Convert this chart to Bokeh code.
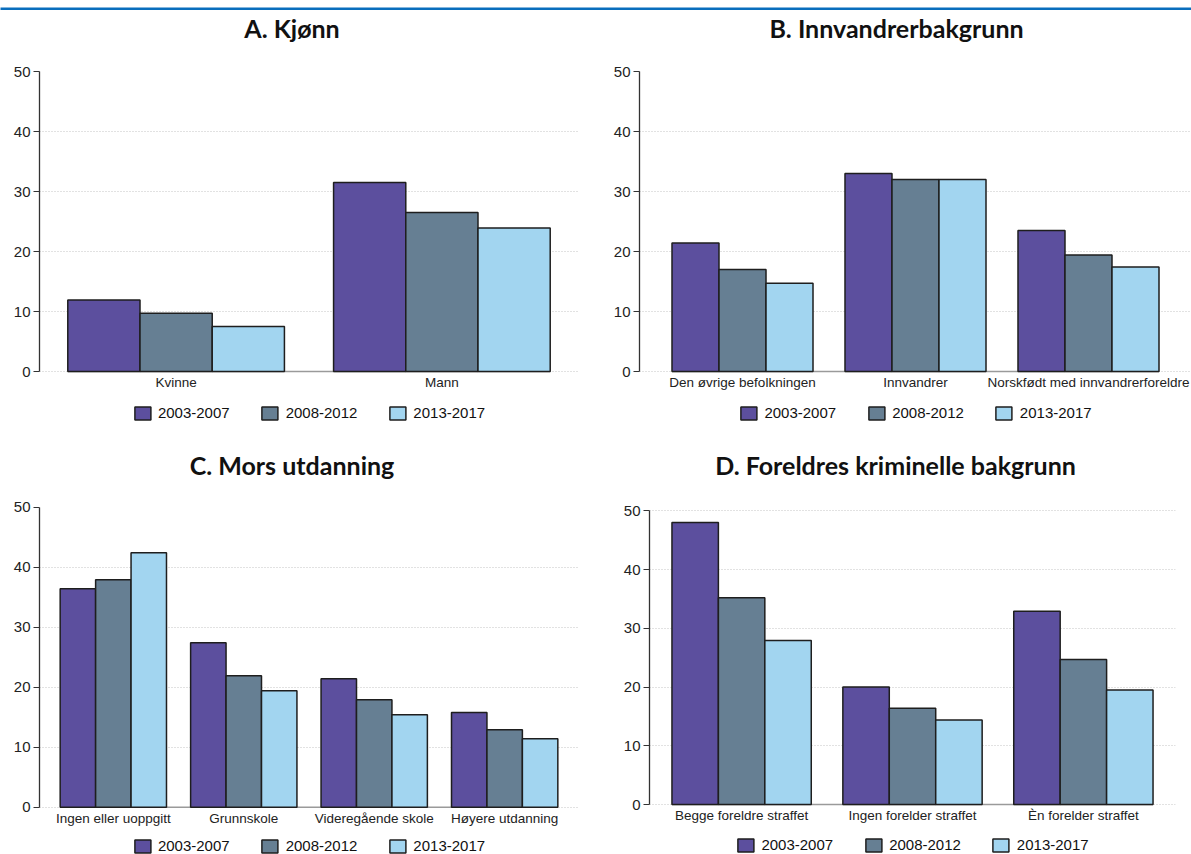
from bokeh.plotting import figure
from bokeh.models import (FactorRange, Range1d, FixedTicker, ColumnDataSource,
                          Legend, LegendItem, Label)
from bokeh.core.properties import value
from bokeh.transform import dodge
from bokeh.layouts import column, row
from bokeh.embed import file_html
from bokeh.resources import INLINE

# ---------------- data ----------------
periods = ["2003-2007", "2008-2012", "2013-2017"]
colors = ["#5c4f9e", "#667f93", "#a2d5f0"]

titles = ["A. Kjønn", "B. Innvandrerbakgrunn", "C. Mors utdanning",
          "D. Foreldres kriminelle bakgrunn"]

cats_a = ["Kvinne", "Mann"]
a_2003 = [11.9, 31.5]
a_2008 = [9.7, 26.5]
a_2013 = [7.5, 23.9]

cats_b = ["Den øvrige befolkningen", "Innvandrer", "Norskfødt med innvandrerforeldre"]
b_2003 = [21.4, 33.0, 23.5]
b_2008 = [17.0, 32.0, 19.4]
b_2013 = [14.7, 32.0, 17.4]

cats_c = ["Ingen eller uoppgitt", "Grunnskole", "Videregående skole", "Høyere utdanning"]
c_2003 = [36.4, 27.4, 21.4, 15.8]
c_2008 = [37.9, 21.9, 17.9, 12.9]
c_2013 = [42.4, 19.4, 15.4, 11.4]

cats_d = ["Begge foreldre straffet", "Ingen forelder straffet", "Èn forelder straffet"]
d_2003 = [48.0, 20.0, 32.9]
d_2008 = [35.2, 16.4, 24.7]
d_2013 = [27.9, 14.4, 19.5]

y_ticks = [0, 10, 20, 30, 40, 50]
Y_MAX = 50

BAR_W = 0.2717
TICK_FONT = "Liberation Sans"


def panel(title, cats, series, width, height, mb_left, mb_right,
          top50_px, zero_px, pad, grid_ticks, title_px, title_dx, legend_margin):
    """top50_px / zero_px: vertical pixel position (from figure top) of y=50 and y=0."""
    ppu = (zero_px - top50_px) / Y_MAX
    y_hi = Y_MAX + top50_px / ppu
    y_lo = -(height - zero_px) / ppu

    src = ColumnDataSource(dict(cat=cats, s0=series[0], s1=series[1], s2=series[2],
                                base=[0] * len(cats)))
    p = figure(x_range=FactorRange(factors=cats, range_padding=pad),
               y_range=Range1d(y_lo, y_hi), width=width, height=height, title=None,
               output_backend="svg", toolbar_location=None,
               min_border_left=mb_left, min_border_right=mb_right,
               min_border_top=0, min_border_bottom=0)
    p.outline_line_color = None
    p.background_fill_color = "white"
    p.border_fill_color = "white"

    # grid
    p.xgrid.visible = False
    p.ygrid.ticker = FixedTicker(ticks=grid_ticks)
    p.ygrid.grid_line_color = "#c4c4c4"
    p.ygrid.grid_line_dash = "1 2"
    p.ygrid.grid_line_width = 1

    # baseline under the bar groups
    base = ColumnDataSource(dict(x0=[cats[0]], x1=[cats[-1]], y=[0]))
    p.segment(x0=dodge("x0", -1.5 * BAR_W, range=p.x_range), y0="y",
              x1=dodge("x1", 1.5 * BAR_W, range=p.x_range), y1="y",
              source=base, line_color="#9a9a9a", line_width=1.5)

    offsets = [-BAR_W, 0, BAR_W]
    rs = []
    for i in range(3):
        r = p.vbar(x=dodge("cat", offsets[i], range=p.x_range), top="s%d" % i,
                   width=BAR_W, source=src, fill_color=colors[i],
                   line_color="#1e1e1e", line_width=1.5)
        rs.append(r)

    # category labels under the groups
    p.text(x="cat", y="base", text="cat", source=src, y_offset=11,
           text_align="center", text_baseline="middle",
           text_font=value(TICK_FONT), text_font_size="13.5px", text_color="#222222")

    # title
    p.add_layout(Label(x=len(cats) / 2, y=y_hi - title_px / ppu, x_offset=title_dx,
                       text=title, text_align="center", text_baseline="middle",
                       text_font="Lato", text_font_style="bold",
                       text_font_size="25px", text_color="#111111"))

    # y axis
    p.yaxis.ticker = FixedTicker(ticks=y_ticks)
    p.yaxis.bounds = (0, Y_MAX)
    p.yaxis.axis_line_color = "#333333"
    p.yaxis.axis_line_width = 1.3
    p.yaxis.major_tick_line_color = "#333333"
    p.yaxis.major_tick_out = 6
    p.yaxis.major_tick_in = 0
    p.yaxis.minor_tick_line_color = None
    p.yaxis.major_label_text_font = TICK_FONT
    p.yaxis.major_label_text_font_size = "15px"
    p.yaxis.major_label_text_color = "#222222"
    p.yaxis.major_label_standoff = 3

    p.xaxis.visible = False

    # legend
    lg = Legend(items=[LegendItem(label=periods[i], renderers=[rs[i]]) for i in range(3)],
                orientation="horizontal", location="bottom_center",
                border_line_color=None, background_fill_alpha=0,
                padding=3, margin=legend_margin, spacing=30, glyph_width=20,
                glyph_height=16, label_height=16, label_standoff=6,
                label_text_font=TICK_FONT, label_text_font_size="15px",
                label_text_color="#111111")
    p.add_layout(lg, "center")
    return p


pa = panel(titles[0], cats_a, [a_2003, a_2008, a_2013], 595, 430, 39, 17,
           61, 361, 0.014, [0, 10, 20, 30, 40], 17, -17, 19)
pb = panel(titles[1], cats_b, [b_2003, b_2008, b_2013], 596, 430, 44, 0,
           61, 361, 0.0636, [0, 10, 20, 30, 40], 17, -19, 19)
pc = panel(titles[2], cats_c, [c_2003, c_2008, c_2013], 595, 414, 39, 17,
           66.7, 366.7, 0.033, [0, 10, 20, 30, 40], 24, -17, 0)
pd = panel(titles[3], cats_d, [d_2003, d_2008, d_2013], 596, 414, 54, 16,
           70.3, 364, 0.026, [0, 10, 20, 30, 40, 50], 24, -17, 1)

bar = figure(width=1191, height=10, output_backend="svg", toolbar_location=None,
             min_border_left=0, min_border_right=0, min_border_top=5,
             min_border_bottom=1, background_fill_color="#0a6ebd",
             border_fill_color="white", x_range=Range1d(0, 1), y_range=Range1d(0, 1))
bar.outline_line_color = None
bar.axis.visible = False
bar.grid.visible = False

layout = column(bar, row(pa, pb), row(pc, pd))

with open("out.html", "w") as f:
    f.write(file_html(layout, INLINE))
